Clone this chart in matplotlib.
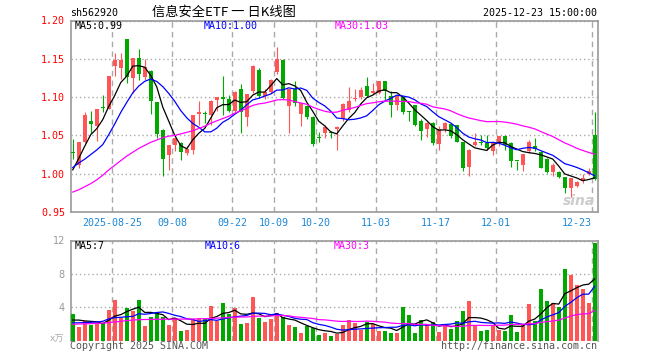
import numpy as np
import pandas as pd
import matplotlib
matplotlib.use('Agg')
import matplotlib.pyplot as plt

# daily candles, 2025-08-14 .. 2025-12-23
opens = [1.028, 1.012, 1.041, 1.069, 1.062, 1.087, 1.085, 1.140, 1.138, 1.176,
         1.125, 1.151, 1.126, 1.134, 1.094, 1.057, 1.025, 1.038, 1.040, 1.027,
         1.031, 1.078, 1.079, 1.077, 1.096, 1.100, 1.097, 1.082, 1.111, 1.074,
         1.108, 1.136, 1.101, 1.107, 1.133, 1.149, 1.088, 1.110, 1.078, 1.088,
         1.074, 1.047, 1.053, 1.054, 1.058, 1.071, 1.083, 1.098, 1.0996, 1.115,
         1.105, 1.106, 1.121, 1.102, 1.090, 1.0996, 1.082, 1.090, 1.069, 1.059,
         1.0665, 1.039, 1.058, 1.065, 1.063, 1.041, 1.009, 1.038, 1.0405, 1.040,
         1.029, 1.042, 1.049, 1.040, 1.0165, 1.0115, 1.029, 1.0366, 1.028, 1.019,
         1.0026, 1.0018, 0.996, 0.9815, 0.984, 0.990, 0.999, 1.050]
highs = [1.045, 1.042, 1.081, 1.082, 1.085, 1.103, 1.128, 1.157, 1.157, 1.176,
         1.151, 1.163, 1.150, 1.135, 1.094, 1.059, 1.038, 1.047, 1.041, 1.036,
         1.077, 1.095, 1.082, 1.096, 1.100, 1.128, 1.103, 1.108, 1.117, 1.104,
         1.142, 1.138, 1.110, 1.123, 1.165, 1.150, 1.111, 1.121, 1.092, 1.090,
         1.075, 1.055, 1.064, 1.056, 1.062, 1.092, 1.113, 1.110, 1.113, 1.126,
         1.119, 1.121, 1.121, 1.108, 1.103, 1.100, 1.082, 1.090, 1.071, 1.067,
         1.067, 1.062, 1.067, 1.066, 1.064, 1.042, 1.032, 1.053, 1.051, 1.051,
         1.043, 1.049, 1.050, 1.042, 1.017, 1.026, 1.0445, 1.0467, 1.029, 1.020,
         1.0137, 1.003, 0.996, 0.995, 0.990, 1.000, 1.008, 1.081]
lows = [1.019, 1.008, 1.040, 1.053, 1.043, 1.080, 1.084, 1.128, 1.124, 1.119,
        1.105, 1.122, 1.122, 1.078, 1.046, 0.997, 1.005, 1.030, 1.018, 1.025,
        1.026, 1.064, 1.066, 1.063, 1.082, 1.077, 1.080, 1.080, 1.053, 1.062,
        1.106, 1.099, 1.098, 1.105, 1.130, 1.097, 1.053, 1.088, 1.062, 1.072,
        1.036, 1.042, 1.047, 1.047, 1.031, 1.069, 1.080, 1.095, 1.097, 1.100,
        1.104, 1.104, 1.096, 1.074, 1.083, 1.0775, 1.069, 1.062, 1.0445, 1.048,
        1.038, 1.031, 1.055, 1.047, 1.041, 1.0035, 0.997, 1.036, 1.038, 1.031,
        1.025, 1.036, 1.031, 1.009, 1.005, 1.0035, 1.027, 1.030, 1.007, 1.001,
        0.997, 0.995, 0.975, 0.970, 0.982, 0.9885, 0.998, 0.992]
closes = [1.027, 1.041, 1.077, 1.065, 1.084, 1.086, 1.127, 1.149, 1.149, 1.126,
          1.151, 1.130, 1.139, 1.095, 1.052, 1.019, 1.038, 1.046, 1.028, 1.032,
          1.077, 1.081, 1.078, 1.095, 1.0996, 1.097, 1.082, 1.107, 1.080, 1.104,
          1.140, 1.102, 1.107, 1.122, 1.150, 1.099, 1.110, 1.092, 1.092, 1.074,
          1.039, 1.046, 1.061, 1.053, 1.061, 1.091, 1.095, 1.099, 1.109, 1.102,
          1.108, 1.121, 1.108, 1.090, 1.102, 1.080, 1.081, 1.064, 1.0555, 1.0665,
          1.040, 1.058, 1.0665, 1.049, 1.041, 1.007, 1.031, 1.041, 1.040, 1.033,
          1.042, 1.049, 1.038, 1.016, 1.016, 1.0255, 1.042, 1.0326, 1.007, 1.0026,
          1.0115, 0.996, 0.9815, 0.9938, 0.9894, 0.9938, 1.0035, 0.993]
volumes = [3.2, 1.66, 2.36, 1.9, 2.1, 2.1, 3.68, 4.88, 2.76, 3.92,
           3.54, 4.88, 1.74, 2.8, 3.28, 2.8, 1.9, 2.7, 1.16, 1.24,
           2.6, 2.7, 2.54, 4.18, 2.36, 4.5, 3.2, 3.92, 2.0, 2.1,
           5.28, 2.74, 2.2, 2.6, 3.3, 2.88, 1.9, 1.6, 0.94, 1.76,
           1.5, 0.7, 0.94, 0.54, 0.76, 1.84, 2.44, 2.12, 1.32, 2.28,
           1.96, 1.12, 1.1, 0.92, 0.9, 4.0, 3.1, 0.94, 2.48, 1.86,
           2.24, 1.06, 1.7, 1.42, 2.34, 3.54, 4.74, 1.7, 1.16, 1.3,
           1.9, 1.3, 1.16, 3.1, 1.06, 1.9, 4.4, 2.4, 6.16, 4.74,
           4.54, 4.0, 8.6, 7.9, 6.64, 6.14, 4.54, 11.74]

# MA values before a full window exists (history not shown)
ma5_head = [1.005, 1.020, 1.036, 1.051]
ma10_head = [1.008, 1.014, 1.019, 1.025, 1.031, 1.038, 1.051, 1.065, 1.080]
ma30_head = [0.976, 0.979, 0.983, 0.987, 0.992, 0.998, 1.005, 1.011, 1.017, 1.023,
             1.028, 1.033, 1.037, 1.041, 1.044, 1.047, 1.049, 1.050, 1.052, 1.054,
             1.056, 1.059, 1.062, 1.066, 1.069, 1.072, 1.075, 1.079, 1.082]
vol_ma5_head = [2.45, 2.45, 2.35, 2.3]
vol_ma10_head = [2.12, 2.12, 2.15, 2.18, 2.22, 2.3, 2.6, 2.75, 2.78]
vol_ma30_head = [1.95, 1.98, 2.0, 2.02, 2.05, 2.08, 2.15, 2.22, 2.3, 2.38,
                 2.45, 2.5, 2.52, 2.53, 2.55, 2.55, 2.56, 2.57, 2.57, 2.57,
                 2.58, 2.6, 2.62, 2.65, 2.68, 2.72, 2.76, 2.8, 2.82]

date_idx = [7, 17, 27, 34, 41, 51, 61, 71, 87]
date_labels = ['2025-08-25', '09-08', '09-22', '10-09', '10-20',
               '11-03', '11-17', '12-01', '12-23']
price_ticks = [0.95, 1.00, 1.05, 1.10, 1.15, 1.20]
vol_ticks = [4, 8, 12]


def moving_avg(vals, window, head):
    ma = pd.Series(vals).rolling(window).mean().to_numpy()
    ma[:len(head)] = head
    return ma


W, H = 660, 360
MONO = 'DejaVu Sans Mono'
RED = '#ff5555'
GREEN = '#00a800'
GRAY = '#9a9a9a'


def box(l, t, r, b):
    return [l / W, 1 - b / H, (r - l) / W, (b - t) / H]


def ftext(x, y, s, **kw):
    fig.text(x / W, 1 - y / H, s, va='center', **kw)


o = np.array(opens)
c = np.array(closes)
x = np.arange(len(o))
colors = np.where(c >= o, RED, GREEN)
vlines_x = [i - 0.42 for i in date_idx]

fig = plt.figure(figsize=(6.6, 3.6), dpi=100)
ax = fig.add_axes(box(70.5, 20.5, 597.5, 212))
axv = fig.add_axes(box(70.5, 240.5, 597.5, 340.5))

for a in (ax, axv):
    a.set_xlim(-0.375, 87.46)
    a.set_xticks(vlines_x)
    a.grid(axis='x', color='#aaaaaa', linestyle=(0, (4, 3)), lw=1.0)
    a.grid(axis='y', color='#aaaaaa', linestyle=(0, (1, 2)), lw=1.0)
    a.set_axisbelow(True)
    a.tick_params(length=0)
    for sp in a.spines.values():
        sp.set_color(GRAY)
        sp.set_linewidth(1.2)

# price panel
ax.vlines(x, lows, highs, color=colors, lw=0.8, zorder=2)
ax.bar(x, np.maximum(np.abs(c - o), 0.0014), 0.7, np.minimum(o, c),
       color=colors, zorder=3)
ax.plot(x, moving_avg(closes, 5, ma5_head), color='black', lw=0.9, zorder=4)
ax.plot(x, moving_avg(closes, 10, ma10_head), color='#0000ff', lw=0.9, zorder=4)
ax.plot(x, moving_avg(closes, 30, ma30_head), color='#ff00ff', lw=0.9, zorder=4)
ax.set_ylim(0.95, 1.20)
ax.set_yticks(price_ticks)
ax.set_yticklabels(['%.2f' % t for t in price_ticks], color='red',
                   family=MONO, fontsize=7.2)
ax.tick_params(axis='y', pad=4)
ax.set_xticklabels(date_labels, color='#1a88d8', family=MONO, fontsize=7.2)
ax.tick_params(axis='x', pad=4)
ax.get_xticklabels()[-1].set_horizontalalignment('right')

ax.text(0.995, 0.06, 'sina', transform=ax.transAxes, ha='right', va='center',
        color='#cccccc', fontsize=10, fontweight='bold', style='italic', zorder=1)

# volume panel
axv.bar(x, volumes, 0.72, color=colors, zorder=3)
axv.plot(x, moving_avg(volumes, 5, vol_ma5_head), color='black', lw=0.9, zorder=4)
axv.plot(x, moving_avg(volumes, 10, vol_ma10_head), color='#0000ff', lw=0.9, zorder=4)
axv.plot(x, moving_avg(volumes, 30, vol_ma30_head), color='#ff00ff', lw=0.9, zorder=4)
axv.set_ylim(0, 12)
axv.set_yticks(vol_ticks)
axv.set_yticklabels([str(t) for t in vol_ticks], color='#999999', fontsize=7)
axv.tick_params(axis='y', pad=4)
axv.set_xticklabels([])
axv.spines['bottom'].set_visible(False)

# header / legends / footer
ftext(70, 13, 'sh562920', family=MONO, fontsize=7.2, color='black')
ftext(224, 12, '信息安全ETF 一 日K线图', family=['Noto Sans CJK SC', 'DejaVu Sans'],
      fontsize=9.5, color='black', ha='center')
ftext(597, 13, '2025-12-23 15:00:00', family=MONO, fontsize=7.2, color='black', ha='right')

ftext(75, 26, 'MA5:0.99', family=MONO, fontsize=7.2, color='black')
ftext(204, 26, 'MA10:1.00', family=MONO, fontsize=7.2, color='#0000ff')
ftext(334.5, 26, 'MA30:1.03', family=MONO, fontsize=7.2, color='#ff00ff')

ftext(75, 246, 'MA5:7', family=MONO, fontsize=7.2, color='black')
ftext(204.5, 246, 'MA10:6', family=MONO, fontsize=7.2, color='#0000ff')
ftext(334, 246, 'MA30:3', family=MONO, fontsize=7.2, color='#ff00ff')

ftext(64, 339, 'x万', family=['DejaVu Sans', 'Noto Sans CJK SC'], fontsize=6.5,
      color='#aaaaaa', ha='right')
ftext(70, 346, 'Copyright 2025 SINA.COM', family=MONO, fontsize=7.2, color='#555555')
ftext(597, 346, 'http://finance.sina.com.cn', family=MONO, fontsize=7.2,
      color='#555555', ha='right')

fig.savefig('out.png', dpi=100)
